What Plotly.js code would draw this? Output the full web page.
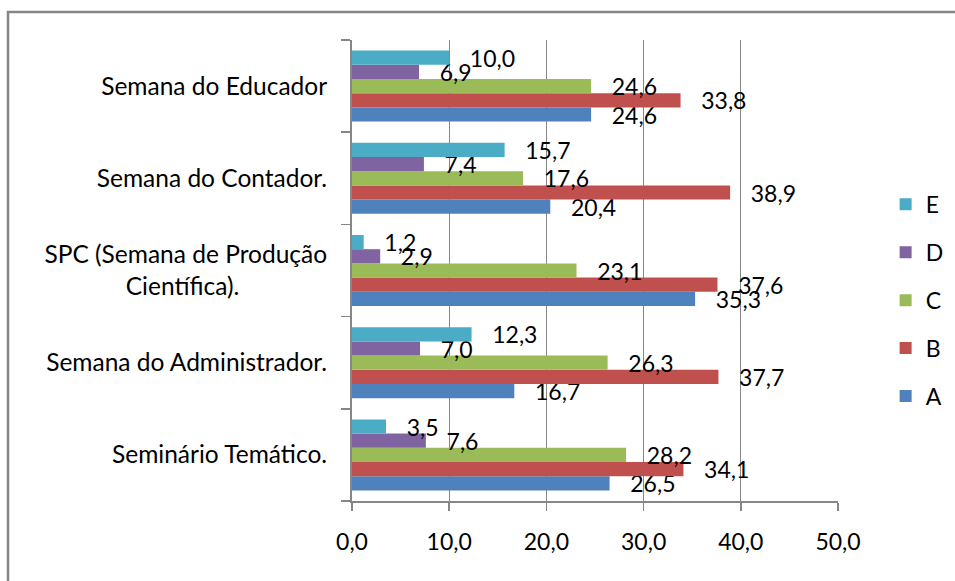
<!DOCTYPE html>
<html>
<head>
<meta charset="utf-8">
<script src="https://cdn.plot.ly/plotly-3.0.1.min.js"></script>
<style>
  html, body { margin: 0; padding: 0; background: #fff; }
  #chart { width: 955px; height: 581px; }
</style>
</head>
<body>
<div id="chart"></div>
<script>
const categories = [
  "Seminário Temático.",
  "Semana do Administrador.",
  "SPC (Semana de Produção<br>Científica)." + "\u00a0".repeat(14),
  "Semana do Contador.",
  "Semana do Educador"
];
const seriesNames = ["A", "B", "C", "D", "E"];
const valuesA = [26.5, 16.7, 35.3, 20.4, 24.6];
const valuesB = [34.1, 37.7, 37.6, 38.9, 33.8];
const valuesC = [28.2, 26.3, 23.1, 17.6, 24.6];
const valuesD = [7.6, 7.0, 2.9, 7.4, 6.9];
const valuesE = [3.5, 12.3, 1.2, 15.7, 10.0];
const tickValues = [0, 10, 20, 30, 40, 50];
const tickLabels = ["0,0", "10,0", "20,0", "30,0", "40,0", "50,0"];

const colors = ["#4F81BD", "#C0504D", "#9BBB59", "#8064A2", "#4BACC6"];
const allValues = [valuesA, valuesB, valuesC, valuesD, valuesE];
const FONT = "Lato, 'Open Sans', sans-serif";
const FS = 23;
const pad = "\u00a0\u00a0\u00a0";

const traces = allValues.map((vals, i) => ({
  type: "bar",
  orientation: "h",
  name: seriesNames[i],
  legendgroup: seriesNames[i],
  legendrank: 10 - i,
  x: vals,
  y: categories,
  marker: { color: colors[i] },
  text: vals.map(v => pad + v.toFixed(1).replace(".", ",")),
  textposition: "outside",
  constraintext: "none",
  cliponaxis: false,
  textfont: { family: FONT, size: FS, color: "#000" },
  hoverinfo: "x+name"
}));

const layout = {
  width: 955,
  height: 581,
  margin: { l: 352, r: 117, t: 40, b: 80, pad: 0, autoexpand: false },
  paper_bgcolor: "#fff",
  plot_bgcolor: "#fff",
  font: { family: FONT, size: FS, color: "#000" },
  barmode: "group",
  bargap: 0.23,
  bargroupgap: 0,
  xaxis: {
    range: [0, 50],
    tickvals: tickValues,
    ticktext: tickLabels,
    showgrid: true,
    gridcolor: "#868686",
    gridwidth: 1,
    zeroline: false,
    showline: true,
    linecolor: "#868686",
    linewidth: 2,
    ticks: "outside",
    ticklen: 8,
    tickcolor: "#868686",
    tickwidth: 1.5,
    ticklabelstandoff: 11,
    tickfont: { family: FONT, size: FS, color: "#000" },
    automargin: false
  },
  yaxis: {
    type: "category",
    categoryorder: "array",
    categoryarray: categories,
    tickson: "boundaries",
    showgrid: false,
    zeroline: false,
    showline: true,
    linecolor: "#868686",
    linewidth: 2,
    ticks: "outside",
    ticklen: 9,
    tickcolor: "#868686",
    tickwidth: 1.5,
    ticklabelstandoff: 18,
    tickfont: { family: FONT, size: 24.5, color: "#000" },
    automargin: false
  },
  legend: {
    x: 1.098,
    xanchor: "left",
    y: 0.69,
    yanchor: "top",
    traceorder: "grouped",
    tracegroupgap: 15,
    font: { family: FONT, size: FS, color: "#000" },
    bgcolor: "rgba(0,0,0,0)"
  },
  shapes: [{
    type: "rect",
    xref: "paper", yref: "paper",
    x0: -0.7078, x1: 2.0,
    y0: -0.4, y1: 1.0607,
    line: { color: "#868686", width: 2.5 },
    fillcolor: "rgba(0,0,0,0)",
    layer: "below"
  }],
  showlegend: true
};

Plotly.newPlot("chart", traces, layout, { displayModeBar: false, staticPlot: true });
</script>
</body>
</html>
